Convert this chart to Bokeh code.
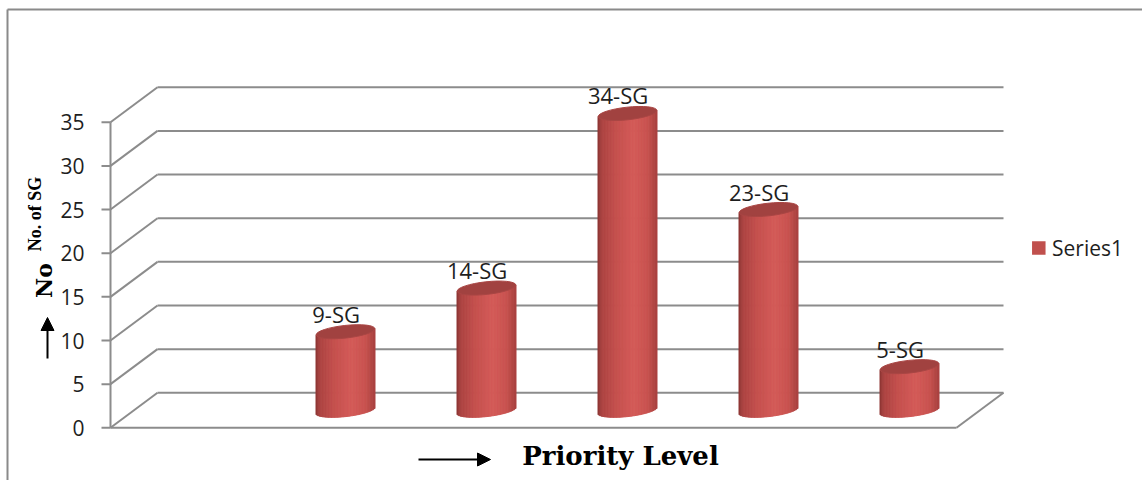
import numpy as np
from bokeh.plotting import figure
from bokeh.models import Range1d, Arrow, NormalHead
from bokeh.core.properties import value
from bokeh.embed import file_html
from bokeh.resources import INLINE

# ---------------- data ----------------
slot_count = 6                      # category slots on the floor (first one is empty)
slots = [1, 2, 3, 4, 5]             # slot index of each bar
counts = [9, 14, 34, 23, 5]         # No. of SG
bar_labels = ["9-SG", "14-SG", "34-SG", "23-SG", "5-SG"]
y_ticks = [0, 5, 10, 15, 20, 25, 30, 35]
y_tick_labels = ["0", "5", "10", "15", "20", "25", "30", "35"]
series_name = "Series1"
x_title = "Priority Level"
y_title = "No. of SG"
y_title_big = "No"

# ---------------- geometry (pixel calibration -> data units) ----------------
W, H = 1142, 480
PX0, CAT_W = 110.0, 141.0      # pixel x of slot 0, pixels per slot
PY0, UNIT = 427.3, 8.73        # pixel y of value 0, pixels per value unit


def X(px):
    return (px - PX0) / CAT_W


def Y(py):
    return (PY0 - py) / UNIT


DX = 47.0 / CAT_W       # 3-D depth offset
DY = 35.0 / UNIT
RX = 29.5 / CAT_W       # cylinder radius
RY = 6.3 / UNIT         # ellipse half-height
SHEAR = 3.2 / UNIT      # slight perspective tilt of the ellipses
TILT = float(np.arctan(3.2 / 29.5))
Y_MAX = y_ticks[-1]

GRID = "#8c8c8c"
RED = "#C0504D"

p = figure(width=W, height=H, x_range=Range1d(X(0), X(W)), y_range=Range1d(Y(H), Y(0)),
           output_backend="svg", toolbar_location=None, min_border=0,
           x_axis_location=None, y_axis_location=None)
p.outline_line_color = None
p.background_fill_color = "white"
p.border_fill_color = "white"
p.xgrid.visible = False
p.ygrid.visible = False

# outer chart border
p.multi_line(xs=[[X(7), X(7)], [X(7), X(W + 5)]],
             ys=[[Y(H + 5), Y(9)], [Y(9), Y(9)]], line_color="#8a8a8a", line_width=2)

# back wall grid lines and side wall diagonals
p.multi_line(xs=[[DX, slot_count + DX] for t in y_ticks],
             ys=[[t + DY, t + DY] for t in y_ticks], line_color=GRID, line_width=2)
p.multi_line(xs=[[0, DX] for t in y_ticks],
             ys=[[t, t + DY] for t in y_ticks], line_color=GRID, line_width=2)
# floor
p.multi_line(xs=[[0, slot_count], [slot_count, slot_count + DX]],
             ys=[[0, 0], [0, DY]], line_color=GRID, line_width=2)
# vertical axis and ticks
p.line(x=[0, 0], y=[0, Y_MAX], line_color=GRID, line_width=2)
p.segment(x0=[X(101)] * len(y_ticks), y0=y_ticks, x1=[0] * len(y_ticks), y1=y_ticks,
          line_color=GRID, line_width=2)
p.text(x=[X(84)] * len(y_ticks), y=y_ticks, text=y_tick_labels,
       text_font=value("Open Sans"), text_font_size="21px", text_color="#1e1e1e",
       text_align="right", text_baseline="middle")

# ---------------- cylinders ----------------
stops = [(0.00, (0x8A, 0x36, 0x34)), (0.07, (0xAC, 0x44, 0x42)), (0.30, (0xC3, 0x4F, 0x4D)),
         (0.60, (0xD4, 0x5B, 0x58)), (0.85, (0xC8, 0x52, 0x4F)), (1.00, (0xA8, 0x42, 0x40))]


def shade(t):
    for (t0, c0), (t1, c1) in zip(stops[:-1], stops[1:]):
        if t <= t1:
            f = (t - t0) / (t1 - t0)
            c = [int(round(a + (b - a) * f)) for a, b in zip(c0, c1)]
            return "#%02x%02x%02x" % tuple(c)
    return "#%02x%02x%02x" % stops[-1][1]


N = 40
edges = np.linspace(-1, 1, N + 1)
mids = (edges[:-1] + edges[1:]) / 2
L, R, B, T, C = [], [], [], [], []
cxs, tops = [], []
base = DY / 2
for s, v in zip(slots, counts):
    cx = s + 0.5 + DX / 2
    top = v + DY / 2
    cxs.append(cx)
    tops.append(top)
    for k in range(N):
        u = mids[k]
        L.append(cx + RX * edges[k])
        R.append(cx + RX * edges[k + 1])
        B.append(base - RY * np.sqrt(max(0.0, 1 - u ** 2)) + SHEAR * u)
        T.append(top + SHEAR * u)
        C.append(shade((u + 1) / 2))

p.quad(left=L, right=R, bottom=B, top=T, fill_color=C, line_color=C, line_width=1)
p.ellipse(x=cxs, y=tops, width=2 * RX, height=2 * RY, angle=TILT, fill_color="#A14240",
          line_color="#A94644", line_width=1)

# data labels
p.text(x=[s + 0.5 + 0.1 for s in slots], y=[v + DY / 2 + 18 / UNIT for v in counts],
       text=bar_labels, text_font=value("Open Sans"), text_font_size="22px",
       text_color="#1e1e1e", text_align="center", text_baseline="middle")

# legend
p.rect(x=[X(1038.3)], y=[Y(247.5)], width=13.5 / CAT_W, height=13.5 / UNIT,
       fill_color=RED, line_color=None)
p.text(x=[X(1051.5)], y=[Y(247)], text=[series_name], text_font=value("Open Sans"),
       text_font_size="21px", text_color="#1e1e1e", text_align="left",
       text_baseline="middle")

# axis titles
p.text(x=[X(620)], y=[Y(455)], text=[x_title], text_font=value("DejaVu Serif"),
       text_font_style="bold", text_font_size="26px", text_color="black",
       text_align="center", text_baseline="middle")
p.add_layout(Arrow(end=NormalHead(size=13, fill_color="black", line_color="black"),
                   x_start=X(418), y_start=Y(459), x_end=X(490), y_end=Y(459),
                   line_width=2, line_color="black"))
p.text(x=[X(34.5)], y=[Y(213.5)], text=[y_title], angle=np.pi / 2,
       text_font=value("Liberation Serif"), text_font_style="bold", text_font_size="18px",
       text_color="black", text_align="center", text_baseline="middle")
p.text(x=[X(43)], y=[Y(280)], text=[y_title_big], angle=np.pi / 2,
       text_font=value("DejaVu Serif"), text_font_style="bold", text_font_size="22px",
       text_color="black", text_align="center", text_baseline="middle")
p.add_layout(Arrow(end=NormalHead(size=13, fill_color="black", line_color="black"),
                   x_start=X(47), y_start=Y(358), x_end=X(47), y_end=Y(317),
                   line_width=2, line_color="black"))

open("out.html", "w").write(file_html(p, INLINE))
